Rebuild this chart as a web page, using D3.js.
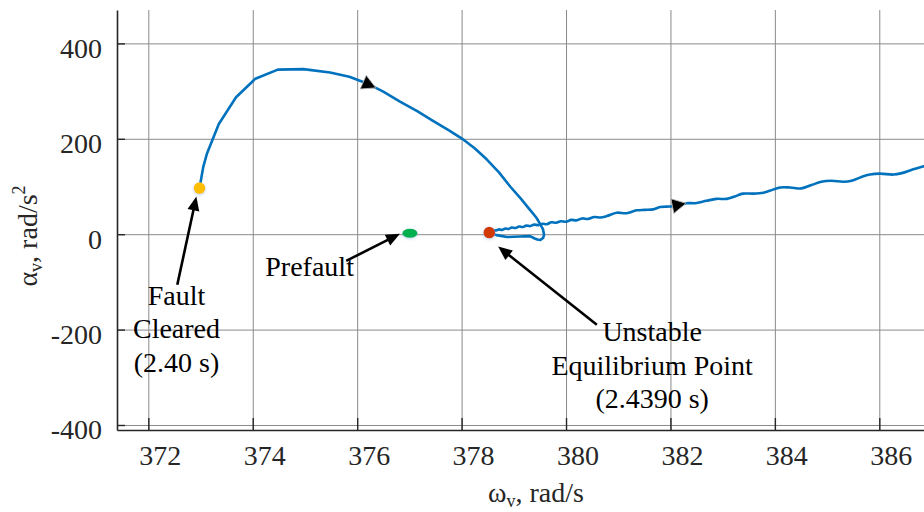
<!DOCTYPE html>
<html>
<head>
<meta charset="utf-8">
<script src="https://cdn.jsdelivr.net/npm/d3@7"></script>
<style>
  body { margin: 0; background: #fff; }
  svg { display: block; font-family: "Liberation Serif", "Times New Roman", serif; }
</style>
</head>
<body>
<svg id="chart" width="924" height="512"></svg>
<script>
// trajectory from fault clearing round to the unstable equilibrium point
var arcOmega = [372.98, 373.05, 373.12, 373.35, 373.68, 374.05, 374.48, 374.97, 375.48, 375.85,
                376.19, 376.50, 376.82, 377.15, 377.46, 377.75, 378.00, 378.25, 378.48, 378.72,
                378.93, 379.13, 379.31, 379.43, 379.50, 379.56, 379.58, 379.56, 379.51, 379.45,
                379.40, 379.31, 379.12, 378.87, 378.67, 378.53];
var arcAlpha = [96.5, 140, 168, 231, 287, 326, 345, 346, 339, 330,
                316, 299, 278, 258, 237, 218, 201, 180, 157, 129,
                100, 75, 51, 35, 22, 10, -1.5, -8, -12, -11,
                -9, -4, -5, -6, -2, 3.4];

// after the UEP the state runs away with a small oscillation
var runOmega = [378.53, 378.60, 378.66, 378.72, 378.78, 378.84, 378.90, 378.96, 379.03, 379.10,
                379.17, 379.24, 379.31, 379.39, 379.47, 379.55, 379.63, 379.72, 379.81, 379.90,
                380.00, 380.10, 380.20, 380.31, 380.42, 380.54, 380.66, 380.78, 380.97, 381.16,
                381.35, 381.51, 381.67, 381.80, 381.99, 382.15, 382.31, 382.47, 382.69, 382.88,
                383.08, 383.23, 383.39, 383.58, 383.78, 383.90, 384.10, 384.29, 384.51, 384.70,
                384.89, 385.08, 385.31, 385.47, 385.66, 385.82, 386.01, 386.27, 386.43, 386.65,
                386.84, 387.10];
var runAlpha = [3.4, 7, 8, 10, 9, 12, 11, 14, 13, 16,
                15, 18, 17, 20, 19, 22, 21, 25, 24, 27,
                26, 30, 29, 33, 32, 36, 35, 38, 45, 44,
                50, 51, 52, 57, 58, 60, 65, 65, 70, 74,
                74, 79, 85, 85, 87, 91, 98, 98, 96, 103,
                110, 112, 110, 112, 120, 125, 127, 125, 128, 136,
                142, 150];

var xTicks = [372, 374, 376, 378, 380, 382, 384, 386];
var yTicks = [-400, -200, 0, 200, 400];

// marked states
var pointOmega = [372.98, 377.01, 378.53];
var pointAlpha = [96.5, 2, 3.4];
var pointColors = ["#FFBF00", "#00B050", "#D23A06"];

// text notes and their arrows (tail -> tip), data units
var noteLines = [["Fault", "Cleared", "(2.40 s)"], ["Prefault"], ["Unstable", "Equilibrium Point", "(2.4390 s)"]];
var noteOmega = [372.54, 374.24, 381.65];
var noteAlpha = [-148, -88, -224];
var noteAnchor = ["middle", "start", "middle"];
var tailOmega = [372.555, 375.79, 380.59];
var tailAlpha = [-106, -56, -190];
var tipOmega = [372.92, 376.82, 378.70];
var tipAlpha = [79, 1, -26];

// direction heads drawn on the trajectory
var dirOmega = [376.36, 382.30];

var svg = d3.select("#chart");
var plotLeft = 117, plotTop = 10, plotRight = 955, plotBottom = 430;

var x = d3.scaleLinear().domain([371.4, 387.45]).range([plotLeft, plotRight]);
var y = d3.scaleLinear().domain([-410.5, 470]).range([plotBottom, plotTop]);

var defs = svg.append("defs");
defs.append("clipPath").attr("id", "plotClip")
    .append("rect")
    .attr("x", plotLeft).attr("y", plotTop)
    .attr("width", plotRight - plotLeft).attr("height", plotBottom - plotTop);

var glow = defs.append("filter").attr("id", "glow")
    .attr("x", "-50%").attr("y", "-50%").attr("width", "200%").attr("height", "200%");
glow.append("feDropShadow")
    .attr("dx", 0).attr("dy", 1).attr("stdDeviation", 1.6)
    .attr("flood-color", "#7fb0e0").attr("flood-opacity", 0.55);

// grid
svg.append("g")
    .attr("transform", "translate(0," + plotBottom + ")")
    .call(d3.axisBottom(x).tickValues(xTicks).tickSize(-(plotBottom - plotTop)).tickFormat(""))
    .call(function(g) { g.select(".domain").remove(); })
    .selectAll("line").attr("stroke", "#8a8a8a").attr("stroke-width", 1);

svg.append("g")
    .attr("transform", "translate(" + plotLeft + ",0)")
    .call(d3.axisLeft(y).tickValues(yTicks).tickSize(-(plotRight - plotLeft)).tickFormat(""))
    .call(function(g) { g.select(".domain").remove(); })
    .selectAll("line").attr("stroke", "#8a8a8a").attr("stroke-width", 1);

// axes, ticks pointing inwards; plain hyphen for negatives like the original
var plainNum = function(d) { return String(d); };

var xAxis = svg.append("g")
    .attr("transform", "translate(0," + plotBottom + ")")
    .call(d3.axisBottom(x).tickValues(xTicks).tickSizeInner(-12).tickSizeOuter(0).tickFormat(plainNum));
xAxis.select(".domain").attr("stroke", "#262626").attr("stroke-width", 1.6);
xAxis.selectAll(".tick line").attr("stroke", "#262626").attr("stroke-width", 1.4);
xAxis.selectAll(".tick text")
    .attr("y", 35).attr("dy", 0).attr("dx", 11.5)
    .attr("font-size", 28).attr("fill", "#262626")
    .attr("font-family", "Liberation Serif");

var yAxis = svg.append("g")
    .attr("transform", "translate(" + plotLeft + ",0)")
    .call(d3.axisLeft(y).tickValues(yTicks).tickSizeInner(-8).tickSizeOuter(0).tickFormat(plainNum));
yAxis.select(".domain").attr("stroke", "#262626").attr("stroke-width", 1.6);
yAxis.selectAll(".tick line").attr("stroke", "#262626").attr("stroke-width", 1.4);
yAxis.selectAll(".tick text")
    .attr("x", -15).attr("dy", "0.5em")
    .attr("font-size", 28).attr("fill", "#262626")
    .attr("font-family", "Liberation Serif");

// axis titles
var xt = svg.append("text")
    .attr("x", (plotLeft + plotRight) / 2).attr("y", 502)
    .attr("text-anchor", "middle").attr("font-size", 28).attr("fill", "#262626");
xt.append("tspan").text("\u03c9");
xt.append("tspan").attr("font-size", 18).attr("dy", 5).text("v");
xt.append("tspan").attr("dy", -5).text(", rad/s");

var yt = svg.append("text")
    .attr("transform", "translate(37,236) rotate(-90)")
    .attr("text-anchor", "middle").attr("font-size", 28).attr("fill", "#262626");
yt.append("tspan").text("\u03b1");
yt.append("tspan").attr("font-size", 18).attr("dy", 5).text("v");
yt.append("tspan").attr("dy", -5).text(", rad/s");
yt.append("tspan").attr("font-size", 18).attr("dy", -12).text("2");

// trajectory
var arcLine = d3.line()
    .x(function(d) { return x(d[0]); })
    .y(function(d) { return y(d[1]); });
var runLine = d3.line()
    .curve(d3.curveCatmullRom.alpha(0.5))
    .x(function(d) { return x(d[0]); })
    .y(function(d) { return y(d[1]); });

var arcData = arcOmega.map(function(w, i) { return [w, arcAlpha[i]]; });
var runData = runOmega.map(function(w, i) { return [w, runAlpha[i]]; });

var plot = svg.append("g").attr("clip-path", "url(#plotClip)");
[[arcData, arcLine], [runData, runLine]].forEach(function(s) {
    plot.append("path")
        .datum(s[0])
        .attr("d", s[1])
        .attr("fill", "none")
        .attr("stroke", "#0072BD")
        .attr("stroke-width", 2.6)
        .attr("stroke-linejoin", "round");
});

// first place along the path where omega reaches w, in pixels
var fullPath = arcData.concat(runData.slice(1));
function pointAt(w) {
    for (var i = 0; i < fullPath.length - 1; i++) {
        var a = fullPath[i], b = fullPath[i + 1];
        if ((a[0] - w) * (b[0] - w) <= 0 && a[0] !== b[0]) {
            var t = (w - a[0]) / (b[0] - a[0]);
            return [x(a[0] + t * (b[0] - a[0])), y(a[1] + t * (b[1] - a[1]))];
        }
    }
    return [x(w), y(0)];
}

dirOmega.forEach(function(w) {
    var p = pointAt(w);
    var q = pointAt(w - 0.3);
    var ang = Math.atan2(p[1] - q[1], p[0] - q[0]) * 180 / Math.PI;
    plot.append("path")
        .attr("d", "M0,0 L-14,-7.5 L-14,7.5 Z")
        .attr("transform", "translate(" + p[0] + "," + p[1] + ") rotate(" + ang + ")")
        .attr("fill", "#000")
        .attr("stroke", "#bbb")
        .attr("stroke-width", 0.8)
        .attr("stroke-linejoin", "round");
});

// markers
plot.selectAll("ellipse.state")
    .data(pointOmega)
    .enter().append("ellipse")
    .attr("class", "state")
    .attr("cx", function(d) { return x(d); })
    .attr("cy", function(d, i) { return y(pointAlpha[i]); })
    .attr("rx", function(d, i) { return i === 1 ? 7.5 : 5.8; })
    .attr("ry", function(d, i) { return i === 1 ? 4.5 : 5.8; })
    .attr("fill", function(d, i) { return pointColors[i]; })
    .attr("filter", "url(#glow)");

// notes with arrows
var noteG = svg.append("g");
noteLines.forEach(function(lines, i) {
    var x0 = x(tailOmega[i]), y0 = y(tailAlpha[i]);
    var x1 = x(tipOmega[i]), y1 = y(tipAlpha[i]);
    var ang = Math.atan2(y1 - y0, x1 - x0);
    var head = 14;
    noteG.append("line")
        .attr("x1", x0).attr("y1", y0)
        .attr("x2", x1 - Math.cos(ang) * (head - 2))
        .attr("y2", y1 - Math.sin(ang) * (head - 2))
        .attr("stroke", "#000")
        .attr("stroke-width", 2.6);
    noteG.append("path")
        .attr("d", "M0,0 L-" + head + ",-6 L-" + head + ",6 Z")
        .attr("transform", "translate(" + x1 + "," + y1 + ") rotate(" + (ang * 180 / Math.PI) + ")")
        .attr("fill", "#000");

    var t = noteG.append("text")
        .attr("x", x(noteOmega[i]))
        .attr("y", y(noteAlpha[i]))
        .attr("text-anchor", noteAnchor[i])
        .attr("font-size", 28)
        .attr("fill", "#000");
    lines.forEach(function(s, k) {
        t.append("tspan")
            .attr("x", x(noteOmega[i]))
            .attr("dy", k === 0 ? 0 : 33.5)
            .text(s);
    });
});
</script>
</body>
</html>
